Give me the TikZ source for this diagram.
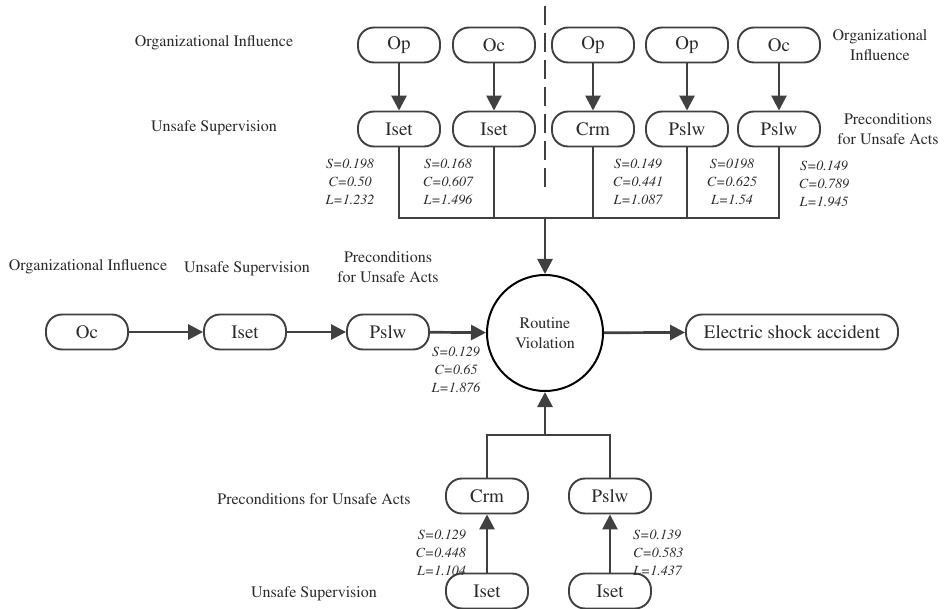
\documentclass[tikz,border=0pt]{standalone}
\usepackage[T1]{fontenc}
\renewcommand{\rmdefault}{ptm}
\usetikzlibrary{arrows.meta}
\definecolor{ink}{HTML}{404040}
\definecolor{txt}{HTML}{2A2A2A}
\tikzset{
  box/.style={draw=ink, line width=1.9pt, rounded corners=16pt, minimum width=82pt,
    minimum height=35pt, inner sep=0pt, text=txt, font=\fontsize{19}{21}\selectfont},
  conn/.style={draw=ink, line width=2.7pt},
  arr/.style={conn, -{Triangle[length=15pt,width=15pt]}},
  lbl/.style={text=txt, align=center, inner sep=0pt, font=\fontsize{16}{20}\selectfont},
  stat/.style={text=txt, align=center, inner sep=0pt, font=\fontsize{14}{18}\selectfont\itshape},
  separator/.style={draw=ink, line width=2.4pt, dash pattern=on 19pt off 8pt},
}
\begin{document}
\begin{tikzpicture}[x=1pt,y=-1pt]
\useasboundingbox[fill=white] (0,0) rectangle (945,609);

% upper branches
\node[box] (op1) at (399,45) {Op};
\node[box] (oc1) at (494,45) {Oc};
\node[box] (op2) at (593,45) {Op};
\node[box] (op3) at (687,45) {Op};
\node[box] (oc2) at (779,45) {Oc};
\node[box] (is1) at (399,129) {Iset};
\node[box] (is2) at (494,129) {Iset};
\node[box] (cr1) at (593,129) {Crm};
\node[box] (ps1) at (687,129) {Pslw};
\node[box] (ps2) at (779,129) {Pslw};

% central event and outcome
\node[draw=black, line width=2pt, circle, minimum size=116pt, inner sep=0pt,
      text=txt, align=center, font=\fontsize{16}{20}\selectfont] (rv) at (545,333) {Routine\\Violation};
\node[box, minimum width=212pt] (acc) at (792,332) {Electric shock accident};

% left branch
\node[box] (oc3) at (87,332) {Oc};
\node[box] (is3) at (245,332) {Iset};
\node[box] (ps3) at (388,332) {Pslw};

% lower branches
\node[box] (cr2) at (487,496) {Crm};
\node[box] (ps4) at (610,496) {Pslw};
\node[box] (is4) at (487,591) {Iset};
\node[box] (is5) at (610,591) {Iset};

% junction points
\coordinate (bus) at (545,218);
\coordinate (bbus) at (545,435);
\coordinate (septop) at (545,6);
\coordinate (sepbot) at (545,194);

% separator
\draw[separator] (septop) -- (sepbot);

% upper arrows and collector
\foreach \a/\b in {op1/is1, oc1/is2, op2/cr1, op3/ps1, oc2/ps2} \draw[arr] (\a) -- (\b);
\draw[conn] (is1.south) -- (is1.south |- bus) -- (ps2.south |- bus) -- (ps2.south);
\foreach \n in {is2, cr1, ps1} \draw[conn] (\n.south) -- (\n.south |- bus);
\draw[arr] (bus) -- (rv);

% left chain
\draw[arr] (oc3) -- (is3);
\draw[arr] (is3) -- (ps3);
\draw[arr] (ps3) -- (rv);
\draw[arr] (rv) -- (acc);

% lower arrows and collector
\draw[arr] (is4) -- (cr2);
\draw[arr] (is5) -- (ps4);
\draw[conn] (cr2.north) -- (cr2.north |- bbus) -- (ps4.north |- bbus) -- (ps4.north);
\draw[arr] (bbus) -- (rv);

% level labels
\node[lbl] (l1) at (214,43) {Organizational Influence};
\node[lbl] (l2) at (214,128) {Unsafe Supervision};
\node[lbl] (l3) at (880,45) {Organizational\\Influence};
\node[lbl] (l4) at (888,129) {Preconditions\\for Unsafe Acts};
\node[lbl] (l5) at (88,267) {Organizational Influence};
\node[lbl] (l6) at (247,269) {Unsafe Supervision};
\node[lbl] (l7) at (388,267) {Preconditions\\for Unsafe Acts};
\node[lbl] (l8) at (314,499) {Preconditions for Unsafe Acts};
\node[lbl] (l9) at (314,594) {Unsafe Supervision};

% path statistics
\node[stat] (s1) at (350,182) {S=0.198\\C=0.50\\L=1.232};
\node[stat] (s2) at (448,182) {S=0.168\\C=0.607\\L=1.496};
\node[stat] (s3) at (638,182) {S=0.149\\C=0.441\\L=1.087};
\node[stat] (s4) at (732,182) {S=0198\\C=0.625\\L=1.54};
\node[stat] (s5) at (824,184) {S=0.149\\C=0.789\\L=1.945};
\node[stat] (s6) at (456,370) {S=0.129\\C=0.65\\L=1.876};
\node[stat, align=right, anchor=east] (s7) at (466,553) {S=0.129\\C=0.448\\L=1.104};
\node[stat, align=left, anchor=west] (s8) at (633,553) {S=0.139\\C=0.583\\L=1.437};
\end{tikzpicture}
\end{document}
